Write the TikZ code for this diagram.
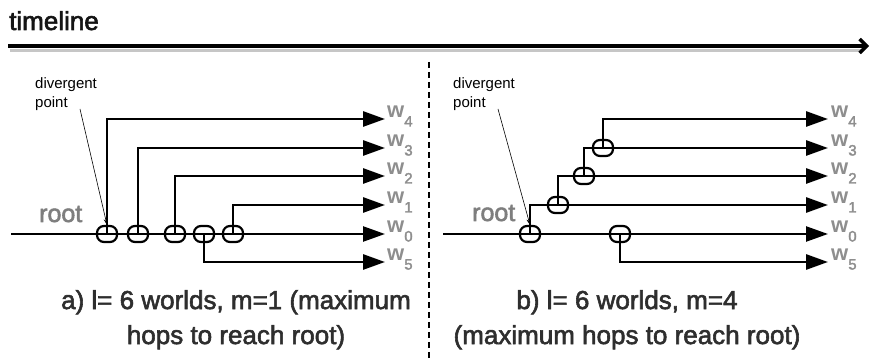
\documentclass[tikz,border=0pt]{standalone}
\usepackage{fontspec}
\setmainfont{Liberation Sans}
\newfontfamily\medfont[FakeBold=2.2]{Liberation Sans}
\usetikzlibrary{arrows.meta}
\definecolor{wgrey}{HTML}{8E8E8E}
\definecolor{rgrey}{HTML}{7E7E7E}
\definecolor{capcol}{HTML}{2E2E2E}
\definecolor{tlcol}{HTML}{141414}
\newcommand{\wlabel}[1]{{\fontsize{22}{22}\selectfont\bfseries w}\raisebox{-8.5pt}{\fontsize{15}{15}\selectfont\medfont #1}}
\begin{document}
\begin{tikzpicture}[x=1pt,y=-1pt,
  hop/.style={draw, rounded corners=7pt, minimum width=20pt, minimum height=16pt, line width=2.2pt, inner sep=0pt},
  branch/.style={line width=2.8pt, -{Triangle[length=22pt,width=15pt]}},
  mainline/.style={line width=2.4pt, -{Triangle[length=22pt,width=15pt]}},
  wlab/.style={anchor=base west, inner sep=0pt, text=wgrey},
  rootlab/.style={anchor=base west, inner sep=0pt, text=rgrey, font=\fontsize{25}{25}\selectfont\medfont},
  divlab/.style={anchor=north west, inner sep=0pt, align=left, font=\fontsize{15}{19}\selectfont},
  pointer/.style={line width=0.6pt, -{Stealth[length=6pt,width=4pt]}},
  caption/.style={anchor=north, inner sep=0pt, align=center, text=capcol, font=\fontsize{26}{35}\selectfont\medfont},
]
\useasboundingbox (0,0) rectangle (871,358);

% timeline
\node[anchor=base west, inner sep=0pt, text=tlcol, font=\fontsize{26}{26}\selectfont\medfont] (tltext) at (9,30) {timeline};
\coordinate (tl0) at (8,46);
\coordinate (tl1) at (869,46);
\coordinate (sh0) at (10,50.5);
\coordinate (sh1) at (862,50.5);
\draw[line width=3pt, gray!45] (sh0) -- (sh1);
\draw[line width=3.5pt, -{Straight Barb[length=7pt,width=14pt]}] (tl0) -- (tl1);

% divider
\coordinate (dtop) at (429,62);
\coordinate (dbot) at (429,358);
\draw[line width=1.3pt, dash pattern=on 6pt off 4pt] (dtop) -- (dbot);

% ---------- left panel ----------
\coordinate (rA) at (11,234);
\coordinate (tA0) at (385,234);
\coordinate (tA1) at (385,205);
\coordinate (tA2) at (385,176);
\coordinate (tA3) at (385,148);
\coordinate (tA4) at (385,119);
\coordinate (tA5) at (385,262);
\node[hop] (a1) at (107,234) {};
\node[hop] (a2) at (138,234) {};
\node[hop] (a3) at (175,234) {};
\node[hop] (a4) at (204,234) {};
\node[hop] (a5) at (233,234) {};
\draw[mainline] (rA) -- (tA0);
\draw[branch] (a1.center) |- (tA4);
\draw[branch] (a2.center) |- (tA3);
\draw[branch] (a3.center) |- (tA2);
\draw[branch] (a4.center) |- (tA5);
\draw[branch] (a5.center) |- (tA1);

\node[rootlab] (rootA) at (39,222) {root};
\node[divlab] (divA) at (35,77) {divergent\\point};
\coordinate (pA) at (80,109);
\draw[pointer] (pA) -- (a1.north);

\node[wlab] (lA4) at (387,118) {\wlabel{4}};
\node[wlab] (lA3) at (387,147) {\wlabel{3}};
\node[wlab] (lA2) at (387,175) {\wlabel{2}};
\node[wlab] (lA1) at (387,204) {\wlabel{1}};
\node[wlab] (lA0) at (387,233) {\wlabel{0}};
\node[wlab] (lA5) at (387,261) {\wlabel{5}};

% ---------- right panel ----------
\coordinate (rB) at (443,234);
\coordinate (tB0) at (828,234);
\coordinate (tB1) at (828,205);
\coordinate (tB2) at (828,176);
\coordinate (tB3) at (828,148);
\coordinate (tB4) at (828,119);
\coordinate (tB5) at (828,262);
\node[hop] (b0) at (530,234) {};
\node[hop] (b1) at (558,205) {};
\node[hop] (b2) at (584,176) {};
\node[hop] (b3) at (603,148) {};
\node[hop] (b4) at (620,234) {};
\draw[mainline] (rB) -- (tB0);
\draw[branch] (b0.center) |- (tB1);
\draw[branch] (b1.center) |- (tB2);
\draw[branch] (b2.center) |- (tB3);
\draw[branch] (b3.center) |- (tB4);
\draw[branch] (b4.center) |- (tB5);

\node[rootlab] (rootB) at (472,221) {root};
\node[divlab] (divB) at (453,77) {divergent\\point};
\coordinate (pB) at (498,109);
\draw[pointer] (pB) -- (b0.north);

\node[wlab] (lB4) at (831,118) {\wlabel{4}};
\node[wlab] (lB3) at (831,147) {\wlabel{3}};
\node[wlab] (lB2) at (831,175) {\wlabel{2}};
\node[wlab] (lB1) at (831,204) {\wlabel{1}};
\node[wlab] (lB0) at (831,233) {\wlabel{0}};
\node[wlab] (lB5) at (831,261) {\wlabel{5}};

% captions
\node[caption] (capA) at (236,290) {a) l= 6 worlds, m=1 (maximum\\hops to reach root)};
\node[caption] (capB) at (627,290) {b) l= 6 worlds, m=4\\(maximum hops to reach root)};
\end{tikzpicture}
\end{document}
